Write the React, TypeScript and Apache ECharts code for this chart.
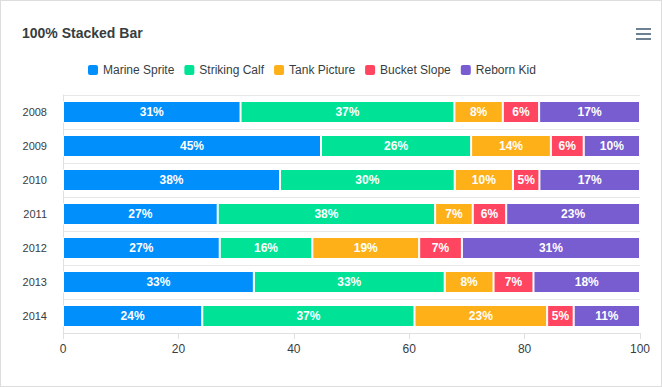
import React, { useEffect, useRef } from "react";
import * as echarts from "echarts";

const categories = ["2008", "2009", "2010", "2011", "2012", "2013", "2014"];
const seriesNames = ["Marine Sprite", "Striking Calf", "Tank Picture", "Bucket Slope", "Reborn Kid"];
const marineSprite = [44, 55, 41, 37, 22, 43, 21];
const strikingCalf = [53, 32, 33, 52, 13, 43, 32];
const tankPicture = [12, 17, 11, 9, 15, 11, 20];
const bucketSlope = [9, 7, 5, 8, 6, 9, 4];
const rebornKid = [25, 12, 19, 32, 25, 24, 10];
const xTicks = [0, 20, 40, 60, 80, 100];
const colors = ["#008FFB", "#00E396", "#FEB019", "#FF4560", "#775DD0"];

export default function App() {
  const ref = useRef<HTMLDivElement>(null);
  useEffect(() => {
    if (!ref.current) return;
    const chart = echarts.init(ref.current, null, { renderer: "svg" });
    const raw = [marineSprite, strikingCalf, tankPicture, bucketSlope, rebornKid];
    const totals = categories.map((_, i) => raw.reduce((s, arr) => s + arr[i], 0));
    const font = "Helvetica, Arial, 'Liberation Sans', sans-serif";
    chart.setOption({
      animation: false,
      color: colors,
      textStyle: { fontFamily: font },
      title: {
        text: "100% Stacked Bar",
        left: 22,
        top: 26,
        padding: 0,
        textStyle: { fontSize: 14, fontWeight: "bold", color: "#373d3f", fontFamily: font },
      },
      legend: {
        top: 63,
        left: 86,
        icon: "roundRect",
        itemWidth: 12,
        itemHeight: 12,
        itemGap: 8,
        padding: 0,
        textStyle: { fontSize: 12, color: "#373d3f", fontFamily: font, padding: [0, 0, 0, -1] },
        data: seriesNames,
      },
      grid: { left: 63, right: 22, top: 95, bottom: 54, containLabel: false },
      xAxis: {
        type: "value",
        min: 0,
        max: 100,
        interval: 20,
        axisLine: { show: true, lineStyle: { color: "#e0e0e0" } },
        axisTick: { show: true, length: 6, lineStyle: { color: "#e0e0e0" } },
        splitLine: { show: false },
        axisLabel: {
          color: "#373d3f",
          fontSize: 12,
          margin: 10,
          fontFamily: font,
          formatter: (v: number) => (xTicks.includes(v) ? String(v) : ""),
        },
      },
      yAxis: {
        type: "category",
        inverse: true,
        data: categories,
        axisLine: { show: true, lineStyle: { color: "#e0e0e0" } },
        axisTick: { show: false },
        splitLine: { show: true, lineStyle: { color: "#e8e8e8" } },
        axisLabel: { color: "#373d3f", fontSize: 11, margin: 16, fontFamily: font },
      },
      series: seriesNames.map((name, si) => ({
        name,
        type: "bar",
        stack: "total",
        barWidth: 22,
        itemStyle: { borderColor: "#fff", borderWidth: 1 },
        label: {
          show: true,
          position: "inside",
          color: "#fff",
          fontSize: 12,
          fontWeight: "bold",
          fontFamily: font,
          formatter: (p: any) => Math.round(p.value) + "%",
        },
        data: raw[si].map((v, i) => (v / totals[i]) * 100),
      })),
      graphic: [
        {
          type: "group",
          left: 636,
          top: 28,
          children: [0, 5, 10].map((y) => ({
            type: "rect",
            shape: { x: 0, y, width: 15, height: 2 },
            style: { fill: "#6E8192" },
          })),
        },
      ],
    });
    return () => chart.dispose();
  }, []);
  return (
    <div
      style={{
        position: "fixed",
        left: 0,
        top: 0,
        width: 662,
        height: 387,
        boxSizing: "border-box",
        border: "1px solid #dddddd",
        background: "#fff",
      }}
    >
      <div ref={ref} style={{ position: "absolute", left: -1, top: -1, width: 662, height: 387 }} />
    </div>
  );
}
